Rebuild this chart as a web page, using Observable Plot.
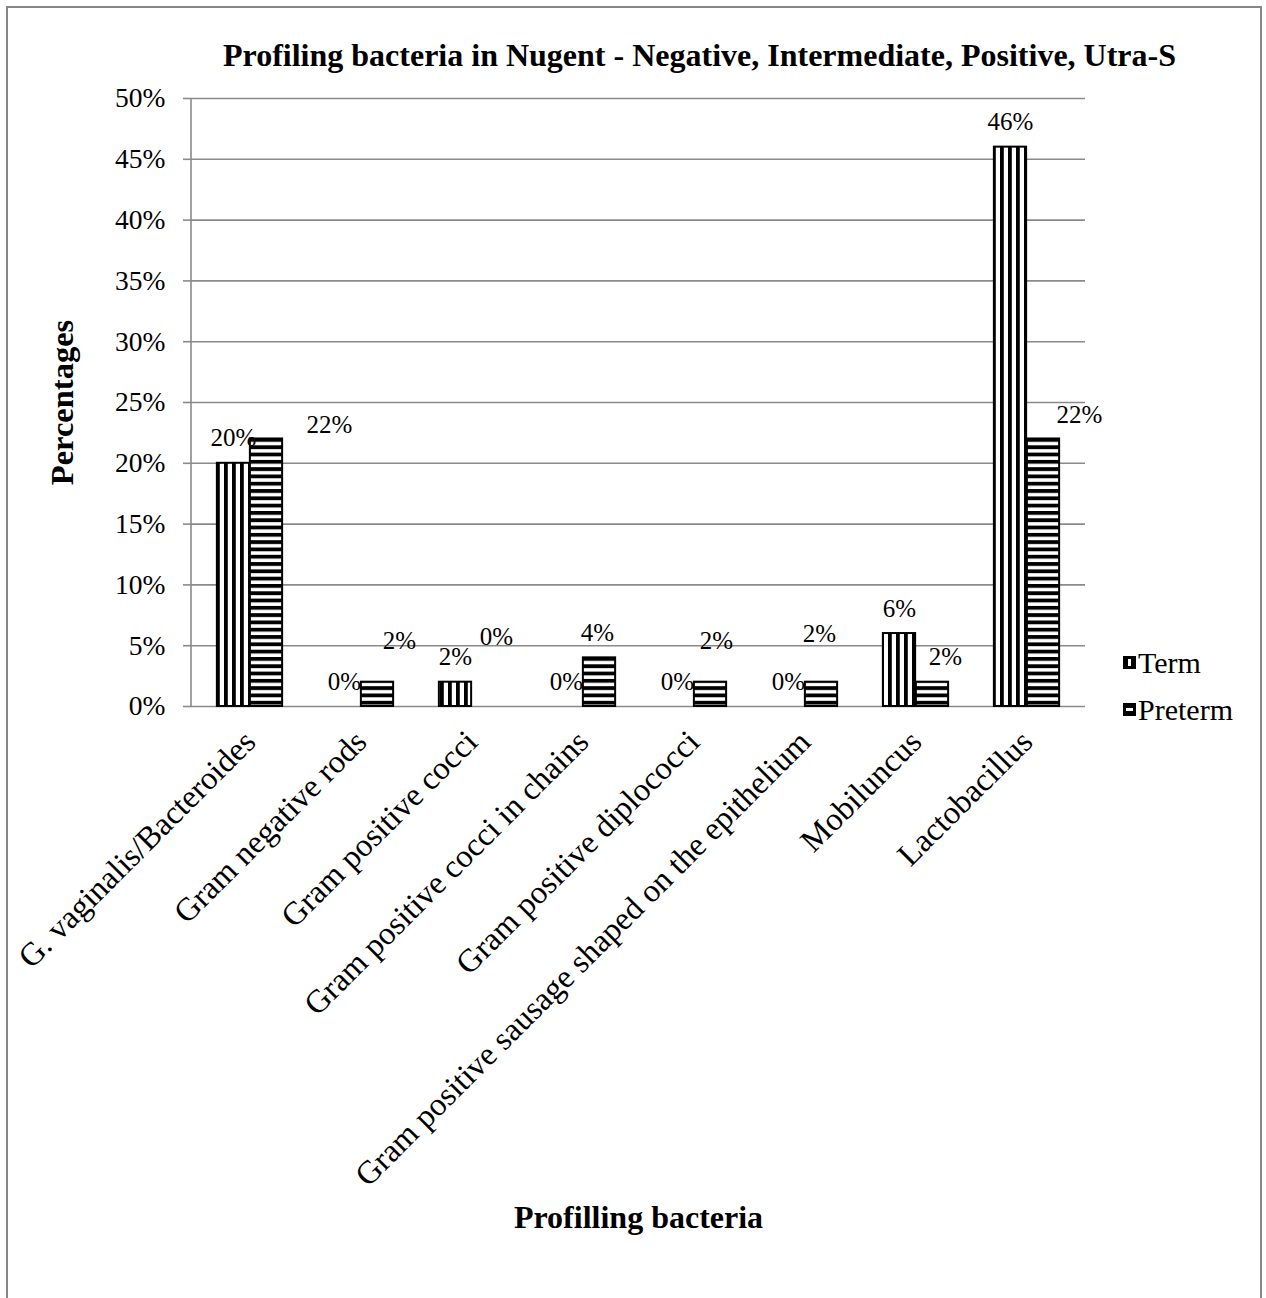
<!DOCTYPE html>
<html>
<head>
<meta charset="utf-8">
<script src="https://cdn.jsdelivr.net/npm/d3@7"></script>
<script src="https://cdn.jsdelivr.net/npm/@observablehq/plot@0.6"></script>
<style>
  html, body { margin: 0; padding: 0; background: #fff; overflow: hidden; }
  #wrap { position: relative; width: 1266px; height: 1298px; overflow: hidden; font-family: "Liberation Serif", "Times New Roman", serif; }
  #border { position: absolute; left: 6px; top: 6px; width: 1256px; height: 1320px; border: 2px solid #878787; box-sizing: border-box; pointer-events: none; }
  #chart { position: absolute; left: 0; top: 0; }
  #legend { position: absolute; left: 1123px; top: 639px; font-size: 30px; color: #000; }
  #legend .row { display: flex; align-items: center; height: 47px; }
  #legend svg { margin-right: 2px; }
</style>
</head>
<body>
<div id="wrap">
  <div id="chart"></div>
  <div id="legend"></div>
  <div id="border"></div>
</div>
<script>
// ---- data ----
const categories = [
  "G. vaginalis/Bacteroides",
  "Gram negative rods",
  "Gram positive cocci",
  "Gram positive cocci in chains",
  "Gram positive diplococci",
  "Gram positive sausage shaped on the epithelium",
  "Mobiluncus",
  "Lactobacillus"
];
const termValues    = [20, 0, 2, 0, 0, 0, 6, 46];
const pretermValues = [22, 2, 0, 4, 2, 2, 2, 22];
const seriesNames = ["Term", "Preterm"];
const yTicks = [0, 5, 10, 15, 20, 25, 30, 35, 40, 45, 50];
const titleText = "Profiling bacteria in Nugent - Negative, Intermediate, Positive, Utra-S";
const xTitle = "Profilling bacteria";
const yTitle = "Percentages";

// label nudges (px) for the Preterm data labels, as placed in the original
const pretermLabelNudge = [[63, -14], [22, -41], [8, -70], [-2, -25], [6, -41], [-2, -48], [13, -25], [36, -24]];

// ---- layout ----
const W = 1266, H = 1298;
const mL = 191, mR = 181, mT = 98, mB = 592;
const bw = (W - mL - mR) / categories.length;
const barW = 33;
const font = '"Liberation Serif", "Times New Roman", serif';
const gray = "#8a8a8a";

const termData = categories.map((c, i) => ({cat: c, v: termValues[i]}));
const pretermData = categories.map((c, i) => ({cat: c, v: pretermValues[i]}));

const pretermLabelMarks = pretermData.map((d, i) =>
  Plot.text([d], {
    x: "cat", y: "v", text: d => d.v + "%",
    dx: barW / 2 + pretermLabelNudge[i][0], dy: pretermLabelNudge[i][1],
    fontSize: 25, fill: "black"
  })
);

const chart = Plot.plot({
  width: W, height: H,
  marginLeft: mL, marginRight: mR, marginTop: mT, marginBottom: mB,
  style: {fontFamily: font, background: "transparent", color: "black", overflow: "visible"},
  x: {domain: categories, padding: 0, label: null},
  y: {domain: [0, 50], label: null},
  marks: [
    Plot.gridY(yTicks, {stroke: gray, strokeOpacity: 1, strokeWidth: 1.6}),
    Plot.axisY({ticks: yTicks, tickFormat: d => d + "%", tickSize: 8, tickPadding: 18, fontSize: 27.5, stroke: gray, strokeWidth: 1.6, fill: "black", label: null}),
    Plot.axisX({tickRotate: -45, tickSize: 0, tickPadding: 30, fontSize: 32.5, fill: "black", label: null}),
    Plot.barY(termData, {x: "cat", y: "v", insetLeft: bw / 2 - barW, insetRight: bw / 2,
      fill: "url(#pTerm)", stroke: "black", strokeWidth: 2}),
    Plot.barY(pretermData, {x: "cat", y: "v", insetLeft: bw / 2, insetRight: bw / 2 - barW,
      fill: "url(#pPreterm)", stroke: "black", strokeWidth: 2}),
    Plot.text(termData, {x: "cat", y: "v", text: d => d.v + "%", dx: -barW / 2, dy: -25, fontSize: 25, fill: "black"}),
    ...pretermLabelMarks,
    Plot.text([titleText], {text: d => d, frameAnchor: "top", textAnchor: "middle", lineAnchor: "middle", dx: 61, dy: -43, fontSize: 32, fontWeight: "bold", fill: "black"}),
    Plot.text([yTitle], {text: d => d, frameAnchor: "left", textAnchor: "middle", lineAnchor: "middle", rotate: -90, dx: -129, fontSize: 32.5, fontWeight: "bold", fill: "black"}),
    Plot.text([xTitle], {text: d => d, frameAnchor: "bottom", textAnchor: "middle", lineAnchor: "middle", dy: 511, fontSize: 32, fontWeight: "bold", fill: "black"})
  ]
});

// patterns + y axis line
const svg = d3.select(chart);
const defs = svg.insert("defs", ":first-child");
const pt = defs.append("pattern").attr("id", "pTerm").attr("patternUnits", "userSpaceOnUse")
  .attr("width", 8).attr("height", 8);
pt.append("rect").attr("width", 8).attr("height", 8).attr("fill", "white");
pt.append("rect").attr("x", 0).attr("width", 3.8).attr("height", 8).attr("fill", "black");
const pp = defs.append("pattern").attr("id", "pPreterm").attr("patternUnits", "userSpaceOnUse")
  .attr("width", 7.3).attr("height", 7.3);
pp.append("rect").attr("width", 7.3).attr("height", 7.3).attr("fill", "white");
pp.append("rect").attr("y", 0).attr("width", 7.3).attr("height", 3.8).attr("fill", "black");

const xs = chart.scale("x"), ys = chart.scale("y");
svg.append("line")
  .attr("x1", xs.range[0]).attr("x2", xs.range[0])
  .attr("y1", ys.apply(0)).attr("y2", ys.apply(50))
  .attr("stroke", gray).attr("stroke-width", 1.6);

document.getElementById("chart").appendChild(chart);

// legend
const legend = d3.select("#legend");
seriesNames.forEach((name, i) => {
  const row = legend.append("div").attr("class", "row");
  const s = row.append("svg").attr("width", 13).attr("height", 13);
  s.append("rect").attr("width", 13).attr("height", 13).attr("fill", "black");
  if (i === 0) s.append("rect").attr("x", 5).attr("y", 3).attr("width", 3).attr("height", 7).attr("fill", "white");
  else s.append("rect").attr("x", 3).attr("y", 5).attr("width", 7).attr("height", 3).attr("fill", "white");
  row.append("span").text(name);
});
</script>
</body>
</html>
